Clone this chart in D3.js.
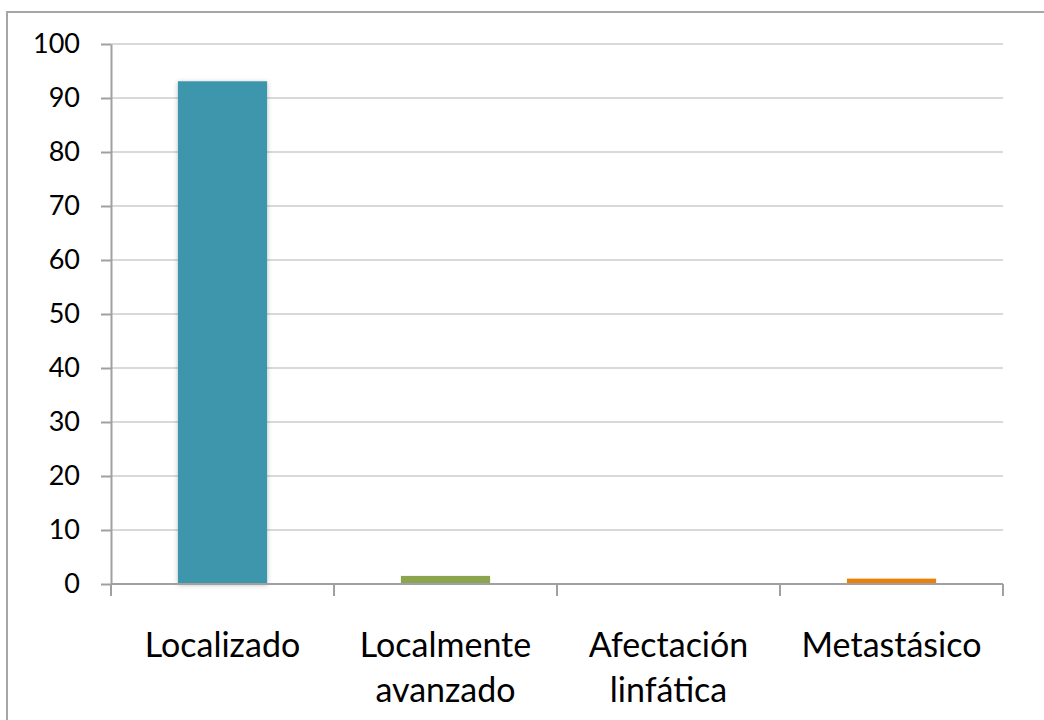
<!DOCTYPE html>
<html>
<head>
<meta charset="utf-8">
<script src="https://cdn.jsdelivr.net/npm/d3@7"></script>
<style>
  body { margin: 0; background: #fff; }
  text { font-family: Lato, "Open Sans", sans-serif; fill: #000; }
</style>
</head>
<body>
<div id="chart"></div>
<script>
// data
var categories = ['Localizado', 'Localmente avanzado', 'Afectación linfática', 'Metastásico'];
var values = [93.1, 1.5, 0, 1.0];
var yTicks = [0, 10, 20, 30, 40, 50, 60, 70, 80, 90, 100];
var palette = ['#3d96ab', '#8ba54e', '#4a7ebb', '#e8820c'];

var w = 1044, h = 720;
var margin = {top: 44, right: 41, bottom: 136, left: 111};
var innerW = w - margin.left - margin.right,
    innerH = h - margin.top - margin.bottom;

var root = d3.select('#chart').append('svg')
    .attr('width', w)
    .attr('height', h);

// outer frame (runs off the right and bottom edge)
root.append('rect')
    .attr('x', 7).attr('y', 12)
    .attr('width', 1100).attr('height', 800)
    .attr('fill', 'none')
    .attr('stroke', '#a6a6a6')
    .attr('stroke-width', 2);

var defs = root.append('defs');
var f = defs.append('filter').attr('id', 'shadow')
    .attr('x', '-20%').attr('y', '-20%').attr('width', '140%').attr('height', '140%');
f.append('feDropShadow')
    .attr('dx', 0).attr('dy', 1).attr('stdDeviation', 2.5)
    .attr('flood-color', '#000').attr('flood-opacity', 0.25);

var svg = root.append('g')
    .attr('transform', 'translate(' + [margin.left, margin.top] + ')');

var x = d3.scaleBand()
    .domain(categories)
    .range([0, innerW])
    .paddingInner(0.6)
    .paddingOuter(0.3);
var y = d3.scaleLinear()
    .domain([0, 100])
    .range([innerH, 0]);

// gridlines
svg.selectAll('line.grid')
    .data(yTicks.filter(function(d) { return d > 0; }))
  .enter().append('line')
    .attr('class', 'grid')
    .attr('x1', 0).attr('x2', innerW)
    .attr('y1', function(d) { return y(d); })
    .attr('y2', function(d) { return y(d); })
    .attr('stroke', '#d9d9d9')
    .attr('stroke-width', 2);

// bars
svg.selectAll('rect.bar')
    .data(values)
  .enter().append('rect')
    .attr('class', 'bar')
    .attr('x', function(d, i) { return x(categories[i]); })
    .attr('y', function(d) { return y(d); })
    .attr('width', x.bandwidth())
    .attr('height', function(d) { return innerH - y(d); })
    .attr('fill', function(d, i) { return palette[i]; })
    .attr('filter', function(d) { return d > 10 ? 'url(#shadow)' : null; });

// y axis
var yAxis = d3.axisLeft(y)
    .tickValues(yTicks)
    .tickSize(10)
    .tickSizeOuter(0)
    .tickPadding(21);
var gy = svg.append('g').attr('class', 'y axis').call(yAxis);
gy.select('.domain').attr('stroke', '#a0a0a0').attr('stroke-width', 2);
gy.selectAll('.tick line').attr('stroke', '#a0a0a0').attr('stroke-width', 2);
gy.selectAll('.tick text')
    .style('font-size', '27px')
    .attr('fill', '#000');

// x axis: ticks at band boundaries
var bounds = d3.range(categories.length + 1).map(function(i) { return i * x.step(); });
var gx = svg.append('g').attr('class', 'x axis')
    .attr('transform', 'translate(0,' + innerH + ')');
gx.append('line')
    .attr('x1', 0).attr('x2', innerW)
    .attr('stroke', '#a0a0a0').attr('stroke-width', 2);
gx.selectAll('line.tick')
    .data(bounds)
  .enter().append('line')
    .attr('class', 'tick')
    .attr('x1', function(d) { return d; })
    .attr('x2', function(d) { return d; })
    .attr('y1', 0).attr('y2', 12)
    .attr('stroke', '#a0a0a0').attr('stroke-width', 2);

var labels = gx.selectAll('text.cat')
    .data(categories)
  .enter().append('text')
    .attr('class', 'cat')
    .attr('text-anchor', 'middle')
    .style('font-size', '34px')
    .attr('transform', function(d) {
        return 'translate(' + (x(d) + x.bandwidth() / 2) + ',73)';
    });
labels.selectAll('tspan')
    .data(function(d) { return d.split(' '); })
  .enter().append('tspan')
    .attr('x', 0)
    .attr('y', function(d, i) { return i * 45; })
    .text(function(d) { return d; });
</script>
</body>
</html>
